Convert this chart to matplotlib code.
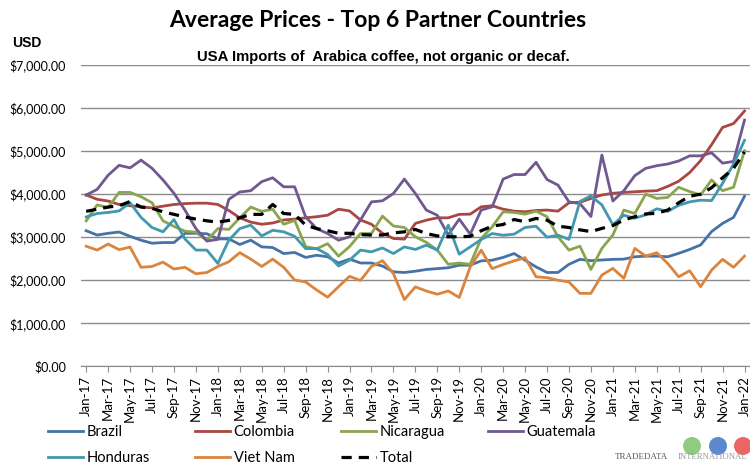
import matplotlib
matplotlib.use("Agg")
import matplotlib.pyplot as plt
from matplotlib.patches import Circle

month_names = ["Jan", "Feb", "Mar", "Apr", "May", "Jun",
               "Jul", "Aug", "Sep", "Oct", "Nov", "Dec"]
months = [f"{m}-{y}" for y in range(17, 22) for m in month_names] + ["Jan-22"]

brazil = [3150, 3050, 3090, 3120, 3020, 2930, 2860, 2875, 2875, 3090, 3090, 3080,
          2960, 2960, 2830, 2930, 2775, 2760, 2620, 2645, 2530, 2580, 2545, 2400,
          2490, 2400, 2400, 2330, 2195, 2180, 2210, 2250, 2270, 2290, 2350, 2350,
          2450, 2465, 2530, 2620, 2465, 2310, 2180, 2180, 2370, 2485, 2455, 2470,
          2485, 2490, 2545, 2560, 2560, 2545, 2625, 2715, 2820, 3130, 3320, 3460,
          3950]
colombia = [3980, 3880, 3840, 3760, 3730, 3705, 3680, 3720, 3760, 3780, 3790, 3790,
            3760, 3620, 3450, 3350, 3300, 3330, 3400, 3420, 3450, 3475, 3510, 3650,
            3610, 3400, 3300, 3090, 2970, 2955, 3320, 3395, 3450, 3450, 3530, 3535,
            3705, 3730, 3650, 3605, 3590, 3620, 3630, 3605, 3800, 3810, 3900, 3980,
            4020, 4040, 4055, 4070, 4080, 4180, 4300, 4500, 4780, 5150, 5550, 5640,
            5930]
nicaragua = [3380, 3750, 3690, 4040, 4040, 3940, 3800, 3380, 3250, 3140, 3115, 2925,
             3200, 3180, 3450, 3700, 3600, 3650, 3300, 3390, 2780, 2730, 2850, 2560,
             2780, 3085, 3085, 3490, 3260, 3225, 3010, 2880, 2700, 2370, 2400, 2370,
             2970, 3240, 3590, 3575, 3535, 3605, 3475, 3010, 2700, 2790, 2250, 2740,
             3050, 3630, 3550, 4000, 3900, 3925, 4160, 4060, 3980, 4330, 4080, 4160,
             5010]
guatemala = [3980, 4110, 4440, 4670, 4610, 4790, 4600, 4330, 4020, 3630, 3200, 2910,
             2950, 3880, 4050, 4080, 4290, 4380, 4170, 4170, 3470, 3200, 3085, 2930,
             3010, 3400, 3820, 3845, 4015, 4350, 4015, 3630, 3510, 3050, 3420, 3070,
             3630, 3705, 4350, 4455, 4455, 4740, 4340, 4210, 3820, 3780, 3480, 4910,
             3840, 4080, 4430, 4600, 4660, 4700, 4770, 4890, 4890, 4960, 4720, 4760,
             5720]
honduras = [3470, 3550, 3575, 3610, 3800, 3460, 3225, 3125, 3410, 2960, 2700, 2700,
            2390, 2930, 3200, 3280, 3030, 3160, 3125, 3020, 2735, 2735, 2600, 2330,
            2465, 2700, 2660, 2750, 2620, 2775, 2715, 2815, 2700, 3280, 2605, 2775,
            2945, 3085, 3045, 3070, 3225, 3255, 3000, 3045, 2950, 3830, 3960, 3750,
            3290, 3510, 3440, 3520, 3660, 3600, 3740, 3820, 3860, 3850, 4250, 4700,
            5250]
viet_nam = [2790, 2700, 2840, 2710, 2770, 2300, 2320, 2420, 2260, 2300, 2150, 2180,
            2320, 2430, 2640, 2490, 2320, 2490, 2300, 2005, 1960, 1775, 1605, 1850,
            2090, 1995, 2320, 2455, 2155, 1550, 1845, 1750, 1675, 1750, 1600, 2310,
            2700, 2270, 2365, 2450, 2525, 2080, 2060, 2000, 1960, 1695, 1695, 2120,
            2275, 2045, 2740, 2560, 2640, 2390, 2080, 2220, 1850, 2235, 2485, 2300,
            2560]
total = [3600, 3650, 3700, 3730, 3830, 3700, 3670, 3590, 3530, 3470, 3420, 3380,
         3350, 3390, 3450, 3530, 3530, 3760, 3550, 3530, 3280, 3200, 3150, 3090,
         3090, 3060, 3050, 3050, 3100, 3125, 3180, 3085, 3030, 3010, 3010, 3020,
         3150, 3255, 3295, 3410, 3360, 3435, 3395, 3255, 3225, 3170, 3130, 3205,
         3270, 3400, 3475, 3540, 3555, 3630, 3800, 3950, 4000, 4150, 4380, 4600,
         4980]

series = [
    ("Brazil", brazil, "#4572A7"),
    ("Colombia", colombia, "#AA4643"),
    ("Nicaragua", nicaragua, "#89A54E"),
    ("Guatemala", guatemala, "#71588F"),
    ("Honduras", honduras, "#4198AF"),
    ("Viet Nam", viet_nam, "#DB843D"),
]

fig = plt.figure(figsize=(7.5, 4.66), dpi=100)
ax = fig.add_axes([0.1076, 0.2139, 0.8924, 0.6466])

x = list(range(len(months)))
handles = []
for name, vals, col in series:
    h, = ax.plot(x, vals, color=col, lw=2.0, label=name)
    handles.append(h)
ht, = ax.plot(x, total, color="black", lw=2.3, ls=(0, (3.2, 2.2)), label="Total")
handles.append(ht)

ax.set_xlim(-0.5, len(months) - 0.5)
ax.set_ylim(0, 7000)
ax.set_yticks(range(0, 7001, 1000))
ax.set_yticklabels([f"${v:,.2f}" for v in range(0, 7001, 1000)],
                   fontsize=9, family="Lato")
ax.yaxis.grid(True, color="#8c8c8c", lw=1.0)
ax.set_axisbelow(True)
ax.tick_params(axis="y", length=0, pad=10.5)
ax.set_xticks(x[::2])
ax.set_xticklabels(months[::2], rotation=90, fontsize=9.5, family="Lato")
ax.tick_params(axis="x", length=4, color="#8c8c8c", pad=3)
for s in ["left", "right", "top"]:
    ax.spines[s].set_visible(False)
ax.spines["bottom"].set_color("#8c8c8c")

fig.text(0.503, 0.955, "Average Prices - Top 6 Partner Countries", ha="center",
         va="center", fontsize=16.5, fontweight="bold", family="Lato")
fig.text(0.511, 0.877, "USA Imports of  Arabica coffee, not organic or decaf.",
         ha="center", va="center", fontsize=10.7, fontweight="bold",
         family="Liberation Sans")
fig.text(0.016, 0.907, "USD", ha="left", va="center", fontsize=10,
         fontweight="bold", family="Liberation Sans")

# legend, one column at a time so the columns sit where the original has them
columns = [(48, [0, 4]), (195, [1, 5]), (341, [2, 6]), (488, [3])]
for left, idx in columns:
    hs = [handles[i] for i in idx]
    fig.legend(handles=hs, labels=[h.get_label() for h in hs],
               loc="upper left", bbox_to_anchor=(left / 750, 1 - 425 / 466),
               frameon=False, prop={"family": "Lato", "size": 10.5},
               handlelength=2.4, handletextpad=0.25, labelspacing=0.85,
               borderpad=0, borderaxespad=0)

# logo
for cx, col in [(692, "#7cc36a"), (718, "#3f74c6"), (743, "#e84a4a")]:
    fig.patches.append(Circle((cx, 20), 9, transform=None,
                              facecolor=col, edgecolor="none", alpha=0.85))
fig.text(615 / 750, 0.01, "TRADEDATA", ha="left", va="bottom", fontsize=6.5,
         family="Liberation Serif", color="#555555")
fig.text(678 / 750, 0.01, "INTERNATIONAL", ha="left", va="bottom", fontsize=6.3,
         family="Liberation Serif", color="#999999")

fig.savefig("out.png", dpi=100)
